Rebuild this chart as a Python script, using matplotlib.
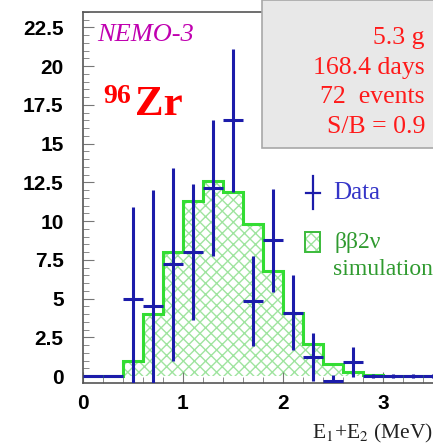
import matplotlib
matplotlib.use("Agg")
import matplotlib.pyplot as plt
from matplotlib.patches import Rectangle
from matplotlib.ticker import MultipleLocator

# ββ2ν simulation histogram (bin edges in MeV, counts per 0.2 MeV)
sim_edges = [0.0, 0.2, 0.4, 0.6, 0.8, 1.0, 1.2, 1.4, 1.6, 1.8, 2.0,
             2.2, 2.4, 2.6, 2.8, 3.0, 3.2, 3.4, 3.6]
sim_counts = [0.0, 0.0, 1.0, 4.0, 8.0, 11.3, 12.6, 11.9, 9.8, 6.8, 4.05,
              2.05, 0.78, 0.28, 0.05, 0.03, 0.02, 0.01]

# data points (bin centres, values, errors)
data_x = [0.1, 0.3, 0.5, 0.7, 0.9, 1.1, 1.3, 1.5, 1.7, 1.9, 2.1,
          2.3, 2.5, 2.7, 2.9, 3.1, 3.3, 3.5]
data_y = [0.0, 0.0, 5.0, 4.5, 7.2, 8.0, 12.15, 16.5, 4.85, 8.75, 4.1,
          1.2, -0.3, 0.9, 0.0, 0.0, 0.0, 0.0]
data_err = [0.0, 0.0, 5.9, 7.5, 6.2, 4.4, 4.4, 4.6, 2.9, 3.3, 2.4,
            1.55, 0.35, 0.95, 0.1, 0.1, 0.1, 0.1]
bin_half = 0.1

y_ticks = [0, 2.5, 5, 7.5, 10, 12.5, 15, 17.5, 20, 22.5]
y_ticklabels = ['0', '2.5', '5', '7.5', '10', '12.5', '15', '17.5', '20', '22.5']

info_lines = ["5.3 g", "168.4 days", "72  events", "S/B = 0.9"]

plt.rcParams['mathtext.fontset'] = 'stix'
serif = ['Liberation Serif', 'DejaVu Serif']
blue = '#1c1caa'
green = '#33dd33'

fig = plt.figure(figsize=(4.33, 4.45), dpi=100)
ax = fig.add_axes([83/433, 62/445, 350/433, 371/445])

# simulation: hatched area + step outline
ax.stairs(sim_counts, sim_edges, fill=True, facecolor='none', edgecolor='#9fe49f',
          hatch='xxx', linewidth=0, zorder=1)
ax.stairs(sim_counts, sim_edges, color=green, linewidth=2.2, zorder=2)

ax.errorbar(data_x, data_y, yerr=data_err, xerr=bin_half, fmt='none',
            ecolor=blue, elinewidth=2.2, capsize=0, zorder=3)

ax.set_xlim(0, 3.5)
ax.set_ylim(-0.45, 23.5)
ax.xaxis.set_major_locator(MultipleLocator(1))
ax.xaxis.set_minor_locator(MultipleLocator(0.2))
ax.yaxis.set_minor_locator(MultipleLocator(0.5))
ax.set_yticks(y_ticks)
ax.set_yticklabels(y_ticklabels)
ax.tick_params(which='both', direction='in', color='#777777')
ax.tick_params(axis='y', which='major', length=8, pad=14)
ax.tick_params(axis='x', which='major', length=8, pad=8)
ax.tick_params(which='minor', length=4)
for lab in ax.get_xticklabels() + ax.get_yticklabels():
    lab.set_fontfamily('Liberation Sans')
    lab.set_fontweight('bold')
    lab.set_fontsize(15)
for side in ['left', 'bottom', 'top']:
    ax.spines[side].set_color('#555555')
    ax.spines[side].set_linewidth(1.2)
ax.spines['right'].set_visible(False)

# info box
ax.add_patch(Rectangle((0.511, 0.633), 0.5, 0.4, transform=ax.transAxes,
                       facecolor='#e8e8e8', edgecolor='#a8a8a8', linewidth=1.2,
                       clip_on=False, zorder=4))
for txt, yy in zip(info_lines, [0.93, 0.85, 0.77, 0.69]):
    ax.text(0.977, yy, txt, transform=ax.transAxes, ha='right', va='center',
            color='#ff1a1a', fontsize=18.5, family=serif, zorder=5)

ax.text(0.04, 0.938, "NEMO-3", transform=ax.transAxes, ha='left', va='center',
        color='#c000b0', fontsize=19, style='italic', family=serif)
ax.text(0.057, 0.755, "96", transform=ax.transAxes, ha='left', va='baseline',
        color='#ff0000', fontsize=20, weight='bold', family=serif)
ax.text(0.149, 0.722, "Zr", transform=ax.transAxes, ha='left', va='baseline',
        color='#ff0000', fontsize=31, weight='bold', family=serif)

# legend drawn by hand
ax.plot([0.657, 0.657], [0.468, 0.557], transform=ax.transAxes, color=blue, lw=1.6)
ax.plot([0.636, 0.678], [0.512, 0.512], transform=ax.transAxes, color=blue, lw=1.6)
ax.text(0.714, 0.512, "Data", transform=ax.transAxes, ha='left', va='center',
        color='#3535c8', fontsize=18, family=serif)
ax.add_patch(Rectangle((0.634, 0.353), 0.043, 0.054, transform=ax.transAxes,
                       facecolor='none', edgecolor='#9fe49f', hatch='xxx', lw=0))
ax.add_patch(Rectangle((0.634, 0.353), 0.043, 0.054, transform=ax.transAxes,
                       facecolor='none', edgecolor='#3bbb3b', lw=1.4))
ax.text(0.72, 0.38, "ββ2ν", transform=ax.transAxes, ha='left', va='center',
        color='#2f9a2f', fontsize=17, family=serif)
ax.text(0.714, 0.305, "simulation", transform=ax.transAxes, ha='left', va='center',
        color='#2f9a2f', fontsize=17, family=serif)

fig.text(312/433, 7/445, "E$_1$+E$_2$ (MeV)", ha='left', va='baseline',
         fontsize=15.5, family=serif, color='#222222')

fig.savefig("out.png", dpi=100)
